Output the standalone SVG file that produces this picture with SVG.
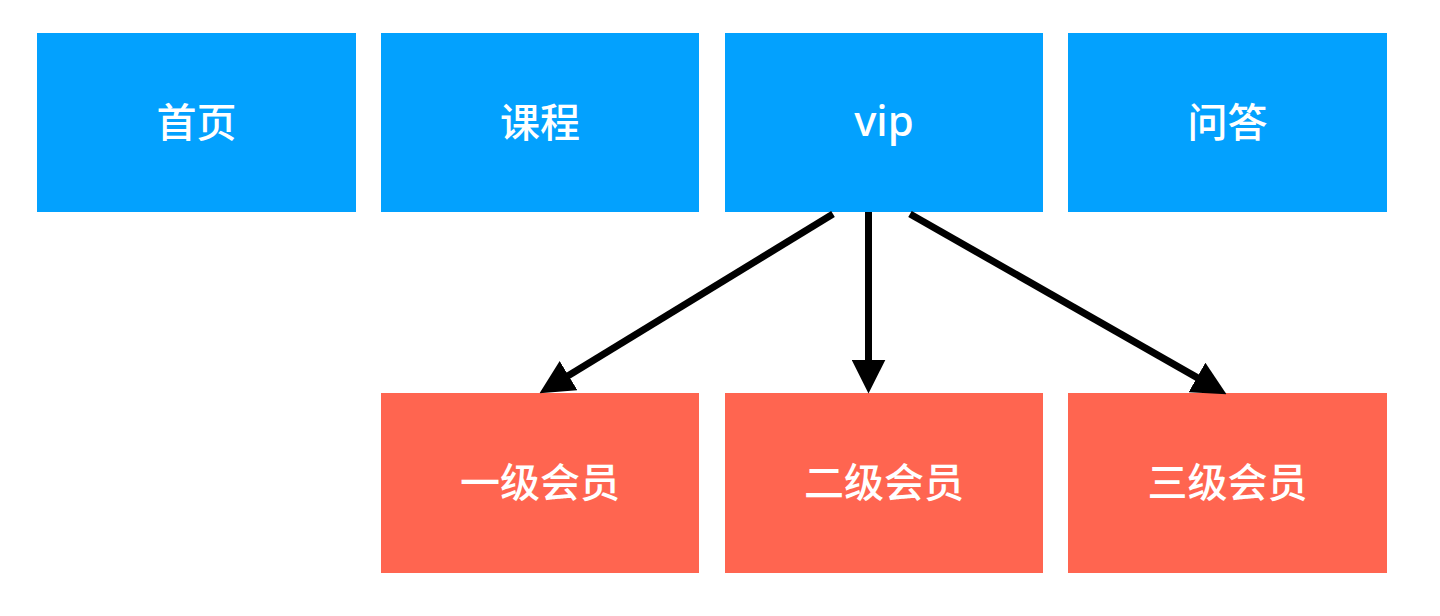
<svg xmlns="http://www.w3.org/2000/svg" width="1440" height="616" viewBox="0 0 1440 616">
  <style>
    .top { fill: #03A1FE; }
    .sub { fill: #FF6550; }
    .lbl { fill: #FFFFFF; font-family: "Liberation Sans", "Noto Sans CJK SC", sans-serif; font-size: 40px; font-weight: 500; text-anchor: middle; }
    .cn { font-family: "Noto Sans CJK SC", sans-serif; }
    .vip { font-family: "Noto Sans", "Liberation Sans", sans-serif; font-size: 42px; }
    .edge { stroke: #000000; stroke-width: 7; fill: none; marker-end: url(#arrow); }
  </style>
  <defs>
    <marker id="arrow" markerUnits="userSpaceOnUse" markerWidth="34" markerHeight="34" viewBox="0 0 33 33" refX="13" refY="16.5" orient="auto">
      <path d="M0,0 L33,16.5 L0,33 z" fill="#000000"/>
    </marker>
  </defs>
  <rect width="1440" height="616" fill="#FFFFFF"/>
  <g id="node-home">
    <rect class="top" x="37" y="33" width="319" height="179"/>
    <text class="lbl cn" x="196.5" y="137">首页</text>
  </g>
  <g id="node-course">
    <rect class="top" x="381" y="33" width="318" height="179"/>
    <text class="lbl cn" x="540" y="137">课程</text>
  </g>
  <g id="node-vip">
    <rect class="top" x="725" y="33" width="318" height="179"/>
    <text class="lbl vip" x="884" y="136">vip</text>
  </g>
  <g id="node-qa">
    <rect class="top" x="1068" y="33" width="319" height="179"/>
    <text class="lbl cn" x="1227.5" y="137">问答</text>
  </g>
  <g id="node-level1">
    <rect class="sub" x="381" y="393" width="318" height="180"/>
    <text class="lbl cn" x="540" y="497">一级会员</text>
  </g>
  <g id="node-level2">
    <rect class="sub" x="725" y="393" width="318" height="180"/>
    <text class="lbl cn" x="884" y="497">二级会员</text>
  </g>
  <g id="node-level3">
    <rect class="sub" x="1068" y="393" width="319" height="180"/>
    <text class="lbl cn" x="1227.5" y="497">三级会员</text>
  </g>
  <g id="connectors">
    <line class="edge" x1="833" y1="214" x2="557.1" y2="382.6"/>
    <line class="edge" x1="868.5" y1="212" x2="868.5" y2="373"/>
    <line class="edge" x1="910" y1="214" x2="1208.6" y2="384.1"/>
  </g>
</svg>
